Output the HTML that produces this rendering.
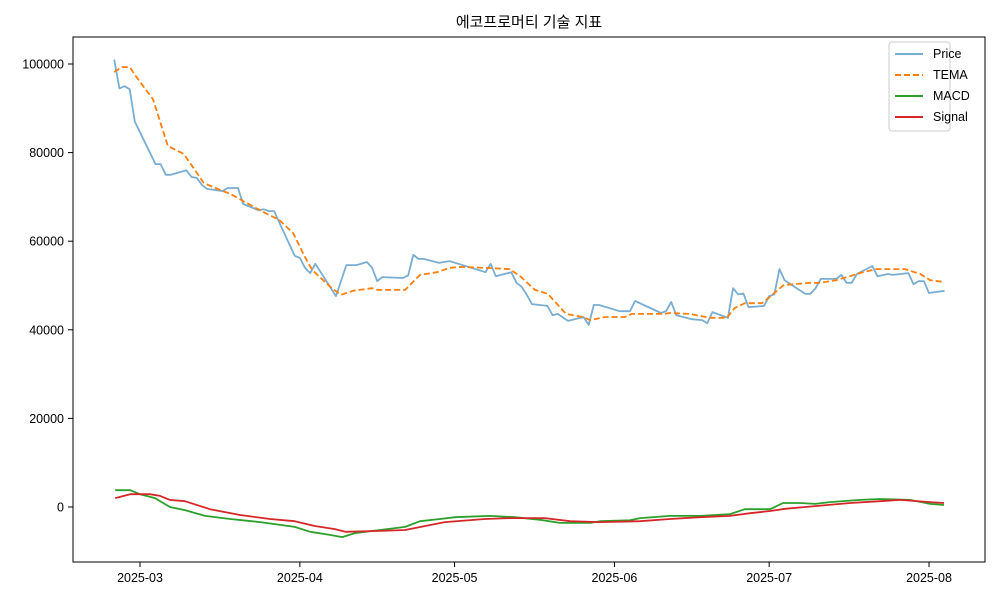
<!DOCTYPE html>
<html><head><meta charset="utf-8"><style>
body{margin:0;background:#fff}
svg text{font-family:"Liberation Sans","Noto Sans CJK KR",sans-serif;fill:#000}
</style></head><body>
<svg id="chart" width="1000" height="600" xmlns="http://www.w3.org/2000/svg">
<rect width="1000" height="600" fill="#fff"/>
<text x="529" y="27" text-anchor="middle" font-size="15">에코프로머티 기술 지표</text>
<g id="plot"></g>
<rect x="73" y="37" width="912" height="525" fill="none" stroke="#000" stroke-width="1"/>
<g>
<rect x="889" y="42" width="61" height="89" fill="#fff" stroke="#ccc" rx="3"/>
<line x1="895" y1="54" x2="923" y2="54" stroke="#1f77b4" stroke-opacity="0.6" stroke-width="2"/>
<text x="933" y="58" font-size="12.5">Price</text>
<line x1="895" y1="75" x2="923" y2="75" stroke="#ff7f0e" stroke-width="2" stroke-dasharray="6,3"/>
<text x="933" y="79" font-size="12.5">TEMA</text>
<line x1="895" y1="96" x2="923" y2="96" stroke="#2ca02c" stroke-width="2"/>
<text x="933" y="100" font-size="12.5">MACD</text>
<line x1="895" y1="117" x2="923" y2="117" stroke="#d62728" stroke-width="2"/>
<text x="933" y="121" font-size="12.5">Signal</text>
</g>
</svg>
<script>
// days since 2025-03-01
const priceDays=[-5,-4,-3,-2,-1,3,4,5,6,9,10,11,12,13,16,17,19,20,23,24,25,26,27,30,31,32,33,34,38,40,42,44,45,46,47,51,52,53,54,55,58,60,62,67,68,69,72,73,74,75,76,79,80,81,83,86,87,88,89,93,95,96,101,102,103,104,107,109,110,111,114,115,116,117,118,121,122,123,124,125,129,130,131,132,135,136,137,138,139,142,143,145,146,149,150,151,152,153,156];
const priceVals=[101000,94500,95000,94300,87000,77400,77400,75000,75000,76000,74500,74300,72700,71800,71300,72000,72000,68400,67000,67200,66800,66800,64300,56700,56200,54000,52800,54900,47600,54600,54600,55300,54000,51000,51900,51700,52300,56900,56000,56000,55100,55500,54800,53000,54900,52100,53000,50600,49700,47900,45800,45400,43300,43600,42000,42900,41100,45600,45600,44200,44200,46500,43800,44200,46300,43300,42400,42200,41500,44000,42700,49400,48000,48200,45100,45400,47600,48000,53700,51200,48100,48100,49400,51500,51500,52400,50600,50600,52600,54400,52100,52600,52400,52800,50300,51000,51000,48300,48800];
const temaDays=[-5,-3.5,-2,-0.4,2.5,3.3,5.4,8.5,12.4,15.5,17.5,20.4,24.2,27,29.7,32,33.4,37.2,39,41.3,45,46,51.4,54.3,57.6,60.1,62,66.9,71.7,73.7,76.6,79.1,82.6,84.9,85.9,87.3,90.2,94,95.4,101.6,102.7,106.6,110.5,113.8,115.3,117.3,120.6,122.1,124.8,130,131.9,135,137.7,139.6,142.7,148.3,151.3,153.2,155.9];
const temaVals=[98200,99300,99300,96600,92100,89200,81500,79700,73100,71600,70700,68800,66400,64800,61800,56400,53500,49400,47900,48800,49400,49000,49000,52400,53000,54000,54200,54000,53700,52100,49000,48100,43600,43100,42900,42200,42900,42900,43600,43600,43800,43600,42700,42700,44900,46000,46000,47400,50100,50600,50600,51200,52100,52800,53700,53700,52600,51200,50800];
const macdDays=[-4.8,-1.9,0,2.9,5.8,8.7,12.6,17.5,23.3,30,33,36.8,39.2,41.7,46.5,51.4,54.3,58.2,61.1,67.9,72.7,77.6,81.4,87.3,89.2,95,97,102.8,108.6,114.4,117.3,122.2,124.7,128,130.9,133.8,139.6,143.5,149.3,153.2,155.9];
const macdVals=[3800,3800,2900,2000,0,-700,-2000,-2700,-3400,-4500,-5600,-6300,-6800,-5900,-5200,-4500,-3200,-2700,-2300,-2000,-2300,-2900,-3600,-3600,-3200,-3000,-2500,-2000,-2000,-1600,-500,-500,900,900,700,1100,1600,1800,1600,700,450];
const signalDays=[-4.8,-1.9,1.9,3.9,5.8,8.7,13.6,19.4,25.2,30,33.9,37.8,39.8,46.5,51.4,55.3,59.1,66.9,71.7,78.5,83.4,89.2,97,102.8,108.6,114.4,118.3,122.2,125.1,130.9,137.7,143.5,147.4,153.2,155.9];
const signalVals=[2000,2900,2900,2500,1600,1300,-500,-1800,-2700,-3200,-4300,-5000,-5600,-5400,-5200,-4300,-3400,-2700,-2500,-2500,-3200,-3400,-3200,-2700,-2300,-2000,-1400,-900,-400,200,900,1300,1600,1100,900];
const yTicks=[0,20000,40000,60000,80000,100000];
const xTickLabels=["2025-03","2025-04","2025-05","2025-06","2025-07","2025-08"];
const xTickDays=[0,31,61,92,122,153];

const xs=d=>140+d*5.157;
const ys=v=>507-v*0.00443;
const NS="http://www.w3.org/2000/svg";
const plot=document.getElementById('plot');
function mk(tag,attrs){const e=document.createElementNS(NS,tag);for(const k in attrs)e.setAttribute(k,attrs[k]);plot.appendChild(e);return e;}
yTicks.forEach(v=>{
  const t=mk('line',{x1:68,x2:73,y1:ys(v),y2:ys(v),stroke:'#000'});
  
  
  const l=mk('text',{x:64,y:ys(v)+4.5,'text-anchor':'end','font-size':'12.5'});
  l.textContent=v;
  
  
});
xTickDays.forEach((d,i)=>{
  const t=mk('line',{x1:xs(d),x2:xs(d),y1:562,y2:567,stroke:'#000'});
  
  
  const l=mk('text',{x:xs(d),y:582,'text-anchor':'middle','font-size':'12.5'});
  l.textContent=xTickLabels[i];
  
  
});
function series(days,vals,attrs,name){
  const pts=days.map((d,i)=>xs(d).toFixed(1)+','+ys(vals[i]).toFixed(1)).join(' ');
  const p=mk('polyline',Object.assign({points:pts,fill:'none','stroke-width':1.8,'stroke-linejoin':'round'},attrs));
  
  
}
series(priceDays,priceVals,{stroke:'#1f77b4','stroke-opacity':0.6},'price-line');
series(temaDays,temaVals,{stroke:'#ff7f0e','stroke-dasharray':'6,3'},'tema-line');
series(macdDays,macdVals,{stroke:'#2ca02c'},'macd-line');
series(signalDays,signalVals,{stroke:'#d62728'},'signal-line');
</script>
</body></html>
